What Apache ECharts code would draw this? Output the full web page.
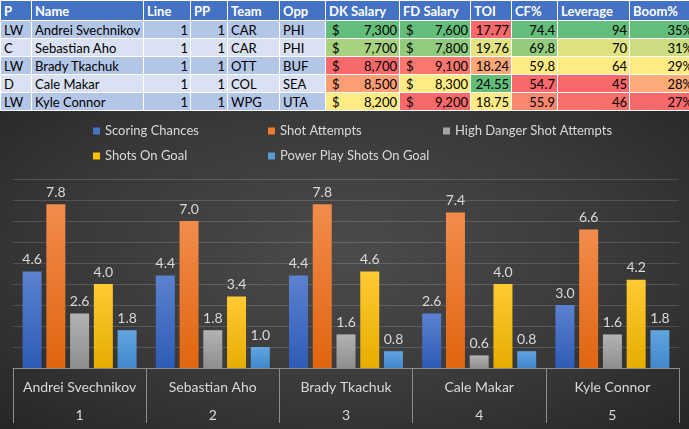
<!DOCTYPE html>
<html>
<head>
<meta charset="utf-8">
<script src="https://cdn.jsdelivr.net/npm/echarts@6/dist/echarts.min.js"></script>
<style>
  html, body { margin: 0; padding: 0; background: #fff; width: 689px; height: 429px; overflow: hidden; }
  #sheet { position: absolute; left: 0; top: 0; width: 689px; height: 111px; overflow: hidden; }
  table { border-collapse: collapse; table-layout: fixed; font-family: Lato, "Noto Sans", sans-serif; font-size: 13px; color: #000; }
  th, td { border: 1px solid #fff; padding: 0 2px 0 3px; white-space: nowrap; overflow: hidden; box-sizing: border-box; }
  th { background: #4472C4; color: #fff; font-weight: bold; text-align: left; height: 20px; }
  td { height: 18px; }
  tr.odd td { background: #B4C6E7; }
  tr.even td { background: #D9E1F2; }
  td.num { text-align: right; }
  td.acc span.cur { float: left; padding-left: 3px; }
  td.acc { text-align: right; }
  #chart { position: absolute; left: 0; top: 111px; width: 689px; height: 318px;
    background: radial-gradient(ellipse at 50% 45%, #4b4b4b 0%, #3a3a3a 55%, #262626 100%); }
</style>
</head>
<body>
<div id="sheet"></div>
<div id="chart"></div>
<script>
// table data
var players = ['Andrei Svechnikov', 'Sebastian Aho', 'Brady Tkachuk', 'Cale Makar', 'Kyle Connor'];
var positions = ['LW', 'C', 'LW', 'D', 'LW'];
var lines = [1, 1, 1, 1, 1];
var ppUnits = [1, 1, 1, 1, 1];
var teams = ['CAR', 'CAR', 'OTT', 'COL', 'WPG'];
var opponents = ['PHI', 'PHI', 'BUF', 'SEA', 'UTA'];
var dkSalary = [7300, 7700, 8700, 8500, 8200];
var fdSalary = [7600, 7800, 9100, 8300, 9200];
var toi = [17.77, 19.76, 18.24, 24.55, 18.75];
var cfPct = [74.4, 69.8, 59.8, 54.7, 55.9];
var leverage = [94, 70, 64, 45, 46];
var boomPct = [35, 31, 29, 28, 27];

// chart data
var ranks = ['1', '2', '3', '4', '5'];
var scoringChances = [4.6, 4.4, 4.4, 2.6, 3.0];
var shotAttempts = [7.8, 7.0, 7.8, 7.4, 6.6];
var hdShotAttempts = [2.6, 1.8, 1.6, 0.6, 1.6];
var shotsOnGoal = [4.0, 3.4, 4.6, 4.0, 4.2];
var ppShotsOnGoal = [1.8, 1.0, 0.8, 0.8, 1.8];

/*** excel style 3 colour scale (min / median / max) */
var RED = [248, 105, 107], YEL = [255, 235, 132], GRN = [99, 190, 123];
function mix(a, b, t) {
    return 'rgb(' + a.map(function (v, i) { return Math.round(v + (b[i] - v) * t); }).join(',') + ')';
}
function scaleColors(vals, lowIsGood) {
    var s = vals.slice().sort(function (a, b) { return a - b; });
    var min = s[0], max = s[s.length - 1], med = s[Math.floor(s.length / 2)];
    var lo = lowIsGood ? GRN : RED, hi = lowIsGood ? RED : GRN;
    return vals.map(function (v) {
        if (v <= med) return mix(lo, YEL, med === min ? 1 : (v - min) / (med - min));
        return mix(YEL, hi, (v - med) / (max - med));
    });
}

function buildTable() {
    var widths = [31, 112, 47, 37, 52, 46, 74, 71, 41, 46, 72, 66];
    var heads = ['P', 'Name', 'Line', 'PP', 'Team', 'Opp', 'DK Salary', 'FD Salary', 'TOI', 'CF%', 'Leverage', 'Boom%'];
    var dkC = scaleColors(dkSalary, true), fdC = scaleColors(fdSalary, true);
    var toiC = scaleColors(toi, false), cfC = scaleColors(cfPct, false);
    var levC = scaleColors(leverage, false), boomC = scaleColors(boomPct, false);
    var total = widths.reduce(function (a, b) { return a + b; }, 0);
    var html = '<table style="width:' + total + 'px"><colgroup>';
    widths.forEach(function (w) { html += '<col style="width:' + w + 'px">'; });
    html += '</colgroup><tr>';
    heads.forEach(function (h) { html += '<th>' + h + '</th>'; });
    html += '</tr>';
    function money(v, c) {
        return '<td class="acc" style="background:' + c + '"><span class="cur">$</span>' + v.toLocaleString('en-US') + '</td>';
    }
    function num(v, c) {
        return '<td class="num" style="background:' + c + '">' + v + '</td>';
    }
    players.forEach(function (p, i) {
        html += '<tr class="' + (i % 2 ? 'even' : 'odd') + '">';
        html += '<td>' + positions[i] + '</td><td>' + p + '</td>';
        html += '<td class="num">' + lines[i] + '</td><td class="num">' + ppUnits[i] + '</td>';
        html += '<td>' + teams[i] + '</td><td>' + opponents[i] + '</td>';
        html += money(dkSalary[i], dkC[i]) + money(fdSalary[i], fdC[i]);
        html += num(toi[i].toFixed(2), toiC[i]) + num(cfPct[i].toFixed(1), cfC[i]);
        html += num(leverage[i], levC[i]) + num(boomPct[i] + '%', boomC[i]);
        html += '</tr>';
    });
    html += '</table>';
    document.getElementById('sheet').innerHTML = html;
}
buildTable();

/*** grouped bar chart */
var chartDom = document.getElementById('chart');
var myChart = echarts.init(chartDom);
var txt = '#d9d9d9';
var font = 'Lato, "Noto Sans", sans-serif';

function grad(top, bottom) {
    return new echarts.graphic.LinearGradient(0, 0, 0, 1, [
        { offset: 0, color: top },
        { offset: 1, color: bottom }
    ]);
}
var seriesDefs = [
    { name: 'Scoring Chances', data: scoringChances, solid: '#4472C4', top: '#5b82cf', bottom: '#2f5bb6' },
    { name: 'Shot Attempts', data: shotAttempts, solid: '#ED7D31', top: '#f28c4c', bottom: '#e0650f' },
    { name: 'High Danger Shot Attempts', data: hdShotAttempts, solid: '#A5A5A5', top: '#b3b3b3', bottom: '#8e8e8e' },
    { name: 'Shots On Goal', data: shotsOnGoal, solid: '#FFC000', top: '#ffca33', bottom: '#e6ad00' },
    { name: 'Power Play Shots On Goal', data: ppShotsOnGoal, solid: '#5B9BD5', top: '#62a5de', bottom: '#3f88cb' }
];

var option = {
    textStyle: { fontFamily: font },
    animation: false,
    legend: {
        left: 88,
        top: 5,
        width: 540,
        itemWidth: 7,
        itemHeight: 7,
        itemGap: 5,
        icon: 'rect',
        data: seriesDefs.map(function (s) {
            return { name: s.name, itemStyle: { color: s.solid } };
        }),
        textStyle: { color: txt, fontSize: 13, fontFamily: font, width: 158, height: 20, lineHeight: 20 }
    },
    grid: { left: 13, right: 10, top: 68, bottom: 61 },
    xAxis: {
        type: 'category',
        data: players,
        axisLine: { lineStyle: { color: '#8c8c8c', width: 1 } },
        axisTick: { show: true, interval: 0, length: 55, lineStyle: { color: '#8c8c8c' } },
        axisLabel: {
            interval: 0,
            margin: 5,
            color: txt,
            fontSize: 14,
            fontFamily: font,
            lineHeight: 28,
            formatter: function (v, i) { return v + '\n' + ranks[i]; }
        }
    },
    yAxis: {
        type: 'value',
        min: 0,
        max: 9,
        interval: 1,
        axisLabel: { show: false },
        axisLine: { show: false },
        axisTick: { show: false },
        splitLine: { lineStyle: { color: 'rgba(255,255,255,0.15)', width: 1 } }
    },
    series: seriesDefs.map(function (s) {
        return {
            name: s.name,
            type: 'bar',
            data: s.data,
            barWidth: 19,
            barGap: '25%',
            itemStyle: { color: grad(s.top, s.bottom) },
            label: {
                show: true,
                position: 'top',
                distance: 5,
                color: txt,
                fontSize: 14,
                fontFamily: font,
                formatter: function (p) { return p.value.toFixed(1); }
            }
        };
    })
};
option && myChart.setOption(option);
</script>
</body>
</html>
